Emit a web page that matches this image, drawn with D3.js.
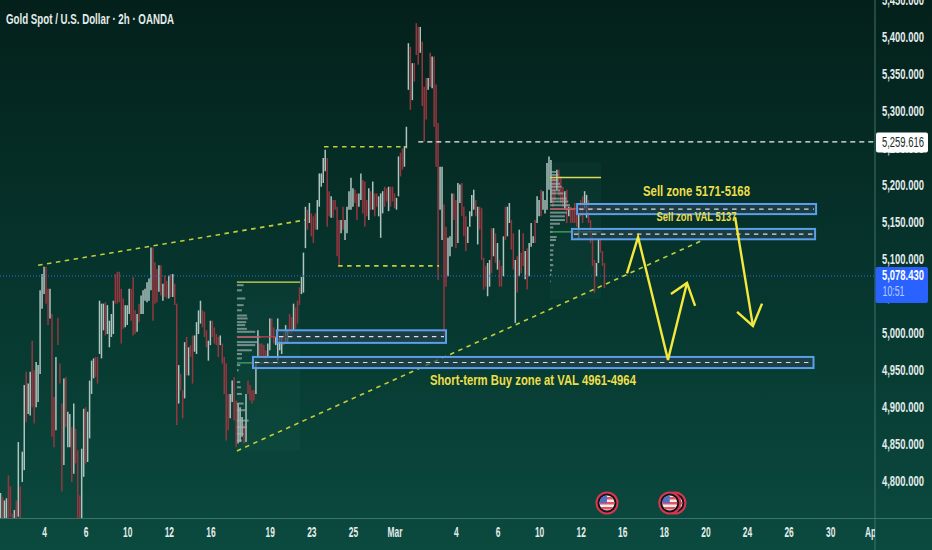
<!DOCTYPE html>
<html>
<head>
<meta charset="utf-8">
<script src="https://cdnjs.cloudflare.com/ajax/libs/d3/7.8.5/d3.min.js"></script>
<style>
  html, body { margin: 0; padding: 0; background: #06332c; overflow: hidden; }
  text { font-family: "Liberation Sans", sans-serif; }
</style>
</head>
<body>
<div class="chart"></div>
<script>
// price range of each 2h bar
const barHigh = [
4785,4780,4775,4778,4809,4794,4757,4762,4775,4854,
4794,4841,4931,4949,4933,4949,4991,4951,4962,4958,
5059,5081,5091,5091,5061,5061,5027,4915,4969,5022,
4960,4906,4940,4942,4895,4892,4874,4906,4872,4843,
4782,4845,4899,4901,4895,4937,4964,4967,4969,4969,
5045,5041,5041,5043,5039,5018,5027,5045,5081,5084,
5084,5061,5048,5039,5039,5061,5061,5077,5032,5027,
5041,5052,5059,5061,5070,5075,5117,5117,5097,5088,
5093,5093,5068,5079,5072,5079,5081,5081,5068,5041,
4958,4946,4924,4989,4996,4982,4985,4998,4998,5016,
5032,5045,5032,5030,5005,4991,5018,5018,5009,5000,
4996,4998,4987,4969,4960,4919,4919,4937,4942,4910,
4906,4901,4888,4879,4919,4937,4931,4924,4924,4964,
5005,4987,4987,4985,4978,4987,5021,5021,5009,4996,
5021,4996,4996,5003,5012,5005,5027,5023,5041,5036,
5045,5063,5077,5110,5172,5168,5177,5163,5159,5163,
5181,5217,5217,5238,5249,5238,5193,5186,5181,5181,
5172,5154,5154,5172,5154,5172,5193,5211,5197,5195,
5190,5190,5217,5208,5206,5181,5197,5193,5206,5190,
5190,5186,5190,5193,5199,5197,5199,5199,5199,5190,
5184,5240,5245,5251,5254,5280,5393,5388,5366,5366,
5420,5415,5415,5395,5334,5346,5346,5380,5375,5375,
5337,5285,5226,5226,5175,5145,5130,5132,5190,5190,
5181,5204,5202,5204,5172,5159,5145,5166,5188,5195,
5181,5172,5172,5170,5103,5092,5096,5100,5143,5143,
5136,5123,5100,5092,5132,5172,5172,5177,5154,5136,
5100,5105,5141,5110,5136,5112,5116,5123,5150,5132,
5154,5186,5181,5195,5193,5181,5231,5240,5235,5213,
5213,5222,5222,5213,5199,5193,5195,5172,5172,5168,
5177,5168,5163,5181,5186,5193,5188,5181,5154,5132,
5100,5096,5127,5127,5112,5096
];
const barLow = [
4749,4744,4744,4744,4749,4753,4735,4740,4744,4753,
4744,4800,4816,4881,4892,4890,4901,4879,4901,4908,
4946,5034,5054,5041,5012,5021,4861,4847,4870,4985,
4933,4787,4823,4874,4847,4847,4800,4811,4825,4749,
4749,4749,4807,4825,4827,4859,4919,4940,4942,4933,
4973,4967,5005,4998,5000,4982,4996,5000,5041,5041,
5043,4987,5007,5009,5012,5027,5018,4998,5000,5003,
5016,5027,5027,5045,5043,5045,5059,5018,5041,5043,
5057,5052,5045,5050,5048,5048,5050,5050,5039,4877,
4906,4924,4886,4913,4944,4944,4969,4933,4976,4973,
5000,5014,5009,4996,4982,4964,4985,4996,4987,4985,
4969,4985,4960,4919,4856,4870,4886,4908,4883,4847,
4852,4854,4861,4852,4854,4919,4910,4906,4910,4919,
4969,4969,4971,4969,4962,4969,4978,4996,4987,4985,
4964,4978,4973,4985,4987,4987,5000,5000,5005,5007,
5014,5039,5054,5056,5116,5141,5150,5132,5123,5141,
5141,5172,5199,5204,5220,5145,5159,5157,5157,5168,
5105,5092,5136,5141,5127,5136,5168,5168,5172,5177,
5154,5172,5181,5163,5145,5159,5154,5168,5168,5159,
5172,5159,5130,5163,5172,5179,5166,5172,5179,5170,
5168,5186,5213,5222,5226,5251,5330,5303,5316,5341,
5377,5364,5380,5308,5260,5290,5330,5334,5332,5280,
5226,5073,5168,5127,4997,5064,5078,5105,5118,5154,
5116,5123,5177,5159,5132,5112,5123,5145,5159,5168,
5159,5121,5141,5100,5060,5064,5051,5064,5082,5105,
5096,5087,5064,5064,5078,5127,5132,5150,5114,5087,
5015,5056,5078,5082,5092,5074,5060,5078,5118,5123,
5123,5150,5159,5159,5168,5163,5168,5195,5177,5172,
5181,5195,5186,5177,5172,5168,5150,5159,5150,5150,
5150,5145,5127,5159,5150,5168,5157,5150,5123,5092,
5056,5078,5096,5110,5092,5062
];
// w = up bar (pale), r = down bar (red)
const barDir = (
'wrwwrrrwrw' + 'rwwrwwrrww' + 'wwwrrwrrwr' + 'rrwrwwrwrr' +
'rwwrwwwwrr' + 'wwwrwwwwrr' + 'rrrwwwrrrw' + 'rwwwwwwrrr' +
'wrwrrwrwrr' + 'wrrwrwrrww' + 'wwrrrwwrrr' + 'rwrrrrwwrr' +
'wwwrwrrrrw' + 'wrrrrwwrrw' + 'wwwrwwrrwr' + 'rrwwwrwrrr' +
'wwwwwrrwrr' + 'rrwrwwwwwr' + 'rwwrrrwrwr' + 'rwwwrrwrrr' +
'wwrrwwwrwr' + 'rrwrrrwrwr' + 'rrwwrrwwwr' + 'rwwrrrwwww' +
'rwrrrrwwrw' + 'rwrrwrwwrr' + 'wrwrrwrwww' + 'rwwrwwwwwr' +
'rwrrrwrwrr' + 'rrwrrwwrrr' + 'rwwrrr').split('');

const priceTicks = [5450,5400,5350,5300,5250,5200,5150,5100,5050,5000,4950,4900,4850,4800];
const timeTickBars = [22,43,64,85,106,136,157,178,199,230,251,272,293,314,335,356,377,398,419,440];
const timeTickLabels = ['4','6','10','12','16','19','23','25','Mar','4','6','10','12','16','18','20','24','26','30','Apr'];

const lastPrice = 5078.43;
const markedPrice = 5259.616;
const countdown = '10:51';

// zones: [first bar, last bar, top price, bottom price]
const zones = [
  [139.6, 225, 5005, 4988],
  [127.5, 410.6, 4969, 4954],
  [291.2, 411.9, 5175.7, 5162],
  [288.6, 411.4, 5142, 5128]
];

// dashed guide lines: [bar, price, bar, price]
const trendLines = [
  [19, 5093, 153.8, 5154],
  [119.4, 4842, 354.8, 5127],
  [163.4, 5253, 205.3, 5253],
  [170.5, 5092, 221.5, 5092]
];

// profile levels: [first bar, last bar, price]
const valueHigh = [[119.4, 151.3, 5070], [277.5, 303.3, 5211.5]];
const pointOfControl = [[119.4, 146.5, 4996], [277.5, 303.3, 5169]];
const valueLow = [[119.4, 141, 4961], [277.5, 303.3, 5138]];

const leftProfileArea = [119.4, 151.3, 5070, 4842];
const rightProfileArea = [277.5, 303.3, 5232, 5047];
const leftProfilePrice = [5066,5059,5048,5039,5032,5025,5021,5016,5012,5007,5003,4996,4989,4985,4978,4973,4967,4958,4951,4935,4928,4919,4906,4897,4883,4874,4865,4856];
const leftProfileVol = [20,15,25,20,15,30,32,28,25,30,55,70,60,55,45,15,15,10,5,10,12,15,20,25,35,30,20,15];
const rightProfilePrice = [5219,5215,5208,5203,5199,5194,5190,5183,5179,5174,5169,5164,5159,5154,5149,5144,5138,5131,5127,5120,5113,5107,5100,5093,5086,5080,5071];
const rightProfileVol = [20,25,25,30,35,30,40,50,55,60,75,50,45,45,30,10,8,20,18,12,10,10,8,10,6,4,2];

// hand drawn arrows as polylines of [bar, price]
const arrows = [
  [[316.4,5082],[322,5131],[337.1,4965],[346.7,5069]],
  [[338.6,5054],[346.7,5069],[350.8,5038]],
  [[371,5158],[380,5011]],
  [[372,5030],[380,5011],[384.6,5041]]
];

const notes = [
  {text: 'Sell zone 5171-5168', bar: 351.5, price: 5192, size: 15, w: 107},
  {text: 'Sell zon VAL 5137', bar: 351.5, price: 5157, size: 13.5, w: 80},
  {text: 'Short-term Buy zone at VAL 4961-4964', bar: 268.9, price: 4936, size: 14.5, w: 206}
];

const eventBars = [306.3, 340.6, 338];

const width = 932;
const height = 550;
const plotRight = 875;
const plotBottom = 518.5;

const xScale = d3.scaleLinear().domain([0, 441]).range([0.5, 873.7]);
const yScale = d3.scaleLinear().domain([5400, 4800]).range([38, 482]);

const svg = d3.select('.chart')
  .append('svg')
  .attr('width', width)
  .attr('height', height)
  .style('display', 'block');

// squeeze text horizontally, the source picture has a narrow type
function fitWidth(sel, w) {
  sel.attr('textLength', w).attr('lengthAdjust', 'spacingAndGlyphs');
}
function squeeze(sel, k) {
  sel.each(function() {
    d3.select(this)
      .attr('textLength', this.getComputedTextLength() * k)
      .attr('lengthAdjust', 'spacingAndGlyphs');
  });
}

const defs = svg.append('defs');
const bg = defs.append('linearGradient')
  .attr('id', 'bg')
  .attr('x1', 0).attr('y1', 0).attr('x2', 0).attr('y2', 1);
bg.append('stop').attr('offset', '0%').attr('stop-color', '#04201b');
bg.append('stop').attr('offset', '50%').attr('stop-color', '#06352d');
bg.append('stop').attr('offset', '100%').attr('stop-color', '#0b4a3f');

defs.append('clipPath').attr('id', 'plot')
  .append('rect').attr('width', plotRight).attr('height', plotBottom);

svg.append('rect').attr('width', width).attr('height', height).attr('fill', 'url(#bg)');

const plot = svg.append('g').attr('clip-path', 'url(#plot)');

// faint profile backgrounds
plot.selectAll('.area')
  .data([leftProfileArea, rightProfileArea])
  .enter()
  .append('rect')
  .attr('x', d => xScale(d[0]))
  .attr('y', d => yScale(d[2]))
  .attr('width', d => xScale(d[1]) - xScale(d[0]))
  .attr('height', d => yScale(d[3]) - yScale(d[2]))
  .attr('fill', '#5fc0a8')
  .attr('opacity', 0.04);

// price bars
plot.selectAll('.bar')
  .data(barHigh)
  .enter()
  .append('line')
  .attr('x1', (d, i) => xScale(i))
  .attr('x2', (d, i) => xScale(i))
  .attr('y1', d => yScale(d))
  .attr('y2', (d, i) => yScale(barLow[i]))
  .attr('stroke', (d, i) => barDir[i] === 'w' ? '#aec4bf' : '#97363f')
  .attr('stroke-width', 1.5);

// volume profiles
const volScale = d3.scaleLinear().domain([0, 75]).range([0, 25]);
function drawProfile(prices, vols, startBar) {
  plot.selectAll(null)
    .data(prices)
    .enter()
    .append('rect')
    .attr('x', xScale(startBar))
    .attr('y', d => yScale(d) - 1)
    .attr('width', (d, i) => volScale(vols[i]))
    .attr('height', 2)
    .attr('fill', '#9fb2ae')
    .attr('opacity', 0.7);
}
drawProfile(leftProfilePrice, leftProfileVol, 119.4);
drawProfile(rightProfilePrice, rightProfileVol, 277.5);

function drawLevels(levels, color) {
  plot.selectAll(null)
    .data(levels)
    .enter()
    .append('line')
    .attr('x1', d => xScale(d[0]))
    .attr('x2', d => xScale(d[1]))
    .attr('y1', d => yScale(d[2]))
    .attr('y2', d => yScale(d[2]))
    .attr('stroke', color)
    .attr('stroke-width', 1.3);
}
drawLevels(valueHigh, '#d8dc5a');
drawLevels(pointOfControl, '#c8404c');
drawLevels(valueLow, '#4da868');

// last price and marked price lines
plot.append('line')
  .attr('x1', 0).attr('x2', plotRight)
  .attr('y1', yScale(lastPrice)).attr('y2', yScale(lastPrice))
  .attr('stroke', '#2f6fe0').attr('stroke-width', 1).attr('stroke-dasharray', '1 2');

plot.append('line')
  .attr('x1', xScale(211)).attr('x2', plotRight)
  .attr('y1', yScale(markedPrice)).attr('y2', yScale(markedPrice))
  .attr('stroke', '#f2f5f4').attr('stroke-width', 1.4).attr('stroke-dasharray', '5 4');

// yellow dashed trend lines
plot.selectAll('.trend')
  .data(trendLines)
  .enter()
  .append('line')
  .attr('x1', d => xScale(d[0]))
  .attr('y1', d => yScale(d[1]))
  .attr('x2', d => xScale(d[2]))
  .attr('y2', d => yScale(d[3]))
  .attr('stroke', '#c4cd3c')
  .attr('stroke-width', 1.6)
  .attr('stroke-dasharray', '4.5 4.5');

// zones
plot.selectAll('.zone')
  .data(zones)
  .enter()
  .append('rect')
  .attr('x', d => xScale(d[0]))
  .attr('y', d => yScale(d[2]))
  .attr('width', d => xScale(d[1]) - xScale(d[0]))
  .attr('height', d => yScale(d[3]) - yScale(d[2]))
  .attr('fill', '#27404e')
  .attr('fill-opacity', 0.7)
  .attr('stroke', '#5a9fe8')
  .attr('stroke-width', 2);

plot.selectAll('.zonemid')
  .data(zones)
  .enter()
  .append('line')
  .attr('x1', d => xScale(d[0]) + 2)
  .attr('x2', d => xScale(d[1]) - 2)
  .attr('y1', d => yScale((d[2] + d[3]) / 2))
  .attr('y2', d => yScale((d[2] + d[3]) / 2))
  .attr('stroke', '#cfe2df')
  .attr('stroke-width', 1.2)
  .attr('stroke-dasharray', '4.5 4.5');

// arrows
const arrowLine = d3.line()
  .x(d => xScale(d[0]))
  .y(d => yScale(d[1]));

plot.selectAll('.arrow')
  .data(arrows)
  .enter()
  .append('path')
  .attr('d', arrowLine)
  .attr('fill', 'none')
  .attr('stroke', '#f4e83c')
  .attr('stroke-width', 2.4);

// notes
plot.selectAll('.note')
  .data(notes)
  .enter()
  .append('text')
  .attr('x', d => xScale(d.bar))
  .attr('y', d => yScale(d.price))
  .attr('text-anchor', 'middle')
  .attr('dominant-baseline', 'middle')
  .attr('fill', '#ecdf4a')
  .attr('font-weight', 'bold')
  .attr('font-size', d => d.size)
  .attr('textLength', d => d.w)
  .attr('lengthAdjust', 'spacingAndGlyphs')
  .text(d => d.text);

// event flags
const flagR = 7.5;
defs.append('clipPath').attr('id', 'flagClip')
  .append('circle').attr('r', flagR);

const flags = plot.selectAll('.flag')
  .data(eventBars)
  .enter()
  .append('g')
  .attr('transform', d => 'translate(' + xScale(d) + ',' + 503 + ')');

flags.append('circle')
  .attr('r', flagR + 3)
  .attr('fill', '#11161c')
  .attr('stroke', '#d8364e')
  .attr('stroke-width', 2);

const flagBody = flags.append('g').attr('clip-path', 'url(#flagClip)');
flagBody.append('rect').attr('x', -8).attr('y', -8).attr('width', 16).attr('height', 16).attr('fill', '#f4eeee');
flagBody.selectAll('rect.stripe')
  .data([-6, -1, 4])
  .enter()
  .append('rect')
  .attr('class', 'stripe')
  .attr('x', -8)
  .attr('y', d => d)
  .attr('width', 16)
  .attr('height', 2.5)
  .attr('fill', '#e8505a');
flagBody.append('rect').attr('x', -8).attr('y', -8).attr('width', 8).attr('height', 8).attr('fill', '#4a70c8');

// axes
svg.append('line')
  .attr('x1', plotRight).attr('x2', plotRight)
  .attr('y1', 0).attr('y2', height)
  .attr('stroke', '#3e726a').attr('stroke-width', 1);
svg.append('line')
  .attr('x1', 0).attr('x2', width)
  .attr('y1', plotBottom).attr('y2', plotBottom)
  .attr('stroke', '#3e726a').attr('stroke-width', 1);

const yAxis = d3.axisRight(yScale)
  .tickValues(priceTicks)
  .tickSize(0)
  .tickPadding(0)
  .tickFormat(d3.format(',.3f'));

svg.append('g')
  .attr('class', 'axis y-axis')
  .attr('transform', 'translate(882,-1)')
  .call(yAxis)
  .call(g => g.select('.domain').remove())
  .selectAll('text')
  .attr('fill', '#e3ecea')
  .attr('font-size', 14)
  .attr('font-weight', 'bold')
  .style('font-family', '"Liberation Sans", sans-serif')
  .call(fitWidth, 42);

const xAxis = d3.axisBottom(xScale)
  .tickValues(timeTickBars)
  .tickSize(0)
  .tickPadding(0)
  .tickFormat((d, i) => timeTickLabels[i]);

const xAxisG = svg.append('g')
  .attr('class', 'axis x-axis')
  .attr('clip-path', 'url(#xclip)')
  .attr('transform', 'translate(0,527)')
  .call(xAxis)
  .call(g => g.select('.domain').remove());

xAxisG.selectAll('text')
  .attr('fill', '#e3ecea')
  .attr('font-size', 14)
  .attr('font-weight', 'bold')
  .style('font-family', '"Liberation Sans", sans-serif')
  .call(squeeze, 0.6);

defs.append('clipPath').attr('id', 'xclip')
  .append('rect').attr('x', 0).attr('y', -20).attr('width', plotRight).attr('height', 60);

// price tags
svg.append('rect')
  .attr('x', 876).attr('y', yScale(markedPrice) - 9.5)
  .attr('width', 52).attr('height', 20).attr('rx', 2)
  .attr('fill', '#ffffff');
svg.append('text')
  .attr('x', 882).attr('y', yScale(markedPrice) + 1)
  .attr('dominant-baseline', 'middle')
  .attr('fill', '#1a2a2a').attr('font-size', 14)
  .attr('textLength', 42).attr('lengthAdjust', 'spacingAndGlyphs')
  .text(d3.format(',.3f')(markedPrice));

svg.append('rect')
  .attr('x', 875.5).attr('y', yScale(lastPrice) - 9)
  .attr('width', 52.5).attr('height', 36).attr('rx', 2)
  .attr('fill', '#2962ff');
svg.append('text')
  .attr('x', 882).attr('y', yScale(lastPrice))
  .attr('dominant-baseline', 'middle')
  .attr('fill', '#ffffff').attr('font-size', 14).attr('font-weight', 'bold')
  .attr('textLength', 42).attr('lengthAdjust', 'spacingAndGlyphs')
  .text(d3.format(',.3f')(lastPrice));
svg.append('text')
  .attr('x', 882.5).attr('y', yScale(lastPrice) + 16)
  .attr('dominant-baseline', 'middle')
  .attr('fill', '#b9cdfb').attr('font-size', 14)
  .attr('textLength', 22).attr('lengthAdjust', 'spacingAndGlyphs')
  .text(countdown);

// title
svg.append('text')
  .attr('x', 6).attr('y', 24)
  .attr('fill', '#e3ecea')
  .attr('font-size', 14)
  .attr('font-weight', 'bold')
  .attr('textLength', 168).attr('lengthAdjust', 'spacingAndGlyphs')
  .text('Gold Spot / U.S. Dollar · 2h · OANDA');
</script>
</body>
</html>
